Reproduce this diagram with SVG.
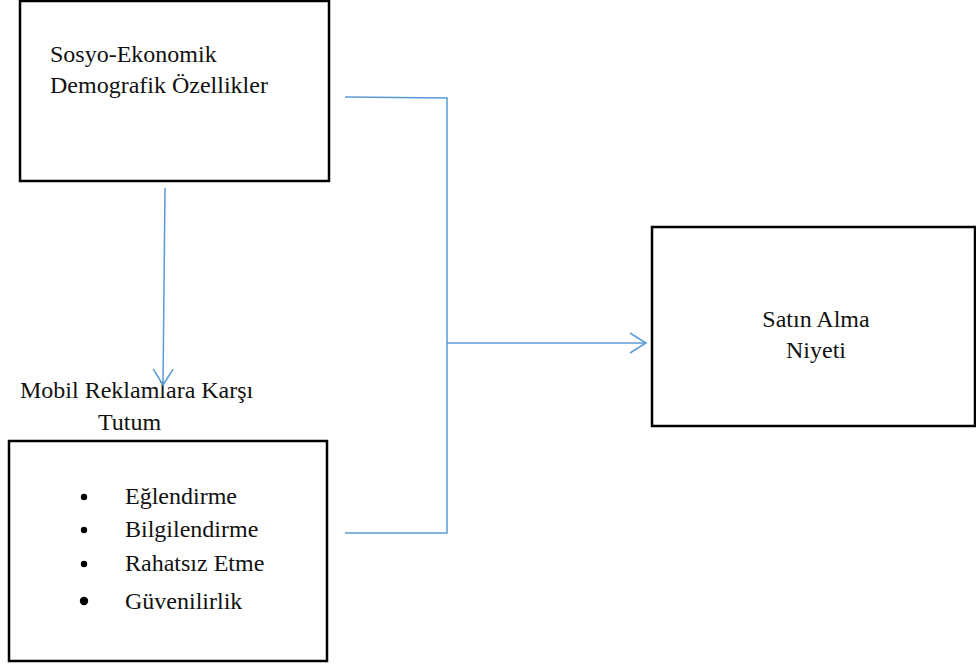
<svg xmlns="http://www.w3.org/2000/svg" width="976" height="664" viewBox="0 0 976 664">
<style>
.box{fill:#fff;stroke:#000;stroke-width:2.5}
.t{font-family:'Liberation Serif','DejaVu Serif',serif;font-size:24px;fill:#111}
.c{fill:none;stroke:#5B9BD5;stroke-width:1.5}
.m{text-anchor:middle}
</style>
<defs>
<marker id="arr" markerUnits="userSpaceOnUse" markerWidth="40" markerHeight="40" viewBox="-20 -20 40 40" refX="0" refY="0" orient="auto">
<path d="M-16,-10 L0,0 L-16,10" fill="none" stroke="#5B9BD5" stroke-width="1.5"/>
</marker>
</defs>
<rect width="976" height="664" fill="#fff"/>
<g id="node-sosyo">
<rect class="box" x="20" y="1" width="309" height="180"/>
<text class="t" x="50" y="62" font-family="Liberation Serif, serif">Sosyo-Ekonomik</text>
<text class="t" x="50" y="93" font-family="Liberation Serif, serif">Demografik Özellikler</text>
</g>
<g id="node-label-tutum">
<text class="t" x="20" y="398">Mobil Reklamlara Karşı</text>
<text class="t" x="98" y="430">Tutum</text>
</g>
<g id="node-tutum">
<rect class="box" x="9" y="441" width="318" height="220"/>
<circle cx="84" cy="497" r="3.2" fill="#000"/>
<circle cx="84" cy="530" r="3.2" fill="#000"/>
<circle cx="84" cy="564" r="3.2" fill="#000"/>
<circle cx="84" cy="601" r="4.2" fill="#000"/>
<text class="t" x="125" y="504">Eğlendirme</text>
<text class="t" x="125" y="537">Bilgilendirme</text>
<text class="t" x="125" y="571">Rahatsız Etme</text>
<text class="t" x="125" y="609">Güvenilirlik</text>
</g>
<g id="node-satin">
<rect class="box" x="652" y="227" width="323" height="199"/>
<text class="t m" x="816" y="327">Satın Alma</text>
<text class="t m" x="816" y="358">Niyeti</text>
</g>
<g id="connectors">
<path class="c" d="M165,188 L163,385" marker-end="url(#arr)"/>
<path class="c" d="M345,97 L447,98 L447,533 L345,533"/>
<path class="c" d="M447,343 L646,343" marker-end="url(#arr)"/>
</g>
</svg>
